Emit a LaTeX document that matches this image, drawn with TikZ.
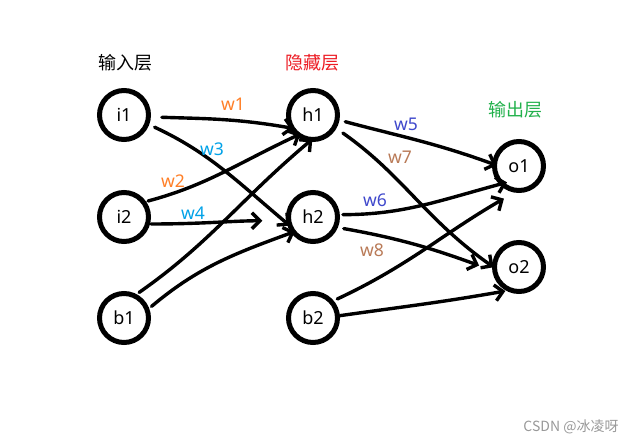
\documentclass[tikz,border=0pt]{standalone}
\usepackage{fontspec}
\setmainfont{Noto Sans}
\newfontfamily\cjk{Noto Sans CJK SC}
\usetikzlibrary{arrows.meta}
\definecolor{porange}{HTML}{FF7F27}
\definecolor{pblue}{HTML}{00A2E8}
\definecolor{pindigo}{HTML}{3F48CC}
\definecolor{pbrown}{HTML}{B97A57}
\definecolor{pred}{HTML}{ED1C24}
\definecolor{pgreen}{HTML}{22B14C}
\tikzset{
  neuron/.style={circle, draw=black, line width=5pt, minimum size=49pt, inner sep=0pt, font=\fontsize{18}{18}\selectfont},
  conn/.style={line width=3.4pt, line cap=round, line join=round, -{Straight Barb[length=8pt,width=16pt]}},
  wlab/.style={font=\fontsize{17.5}{17.5}\selectfont, inner sep=0pt},
  layer/.style={font=\cjk\fontsize{18}{18}\selectfont, inner sep=0pt}
}
\begin{document}
\begin{tikzpicture}[x=1pt,y=1pt]
\useasboundingbox[fill=white] (0,0) rectangle (636,-445);
\node[neuron] (i1) at (124,-115) {i1};
\node[neuron] (i2) at (124,-217) {i2};
\node[neuron] (b1) at (124,-318) {b1};
\node[neuron] (h1) at (313,-115) {h1};
\node[neuron] (h2) at (313,-217) {h2};
\node[neuron] (b2) at (313,-318) {b2};
\node[neuron] (o1) at (519,-166) {o1};
\node[neuron] (o2) at (519,-267) {o2};

\node[layer] (Lin) at (125,-63) {输入层};
\node[layer, text=pred] (Lhid) at (312,-63) {隐藏层};
\node[layer, text=pgreen] (Lout) at (515,-110) {输出层};

\draw[conn, shorten <=11pt, shorten >=-5pt] (i1.-4) to[out=-2,in=170] (h1.208);
\draw[conn, shorten <=6pt, shorten >=-4pt] (i1.-21) to[out=-25,in=140] (h2.193);
\draw[conn, shorten <=2pt, shorten >=-5pt] (i2.35) to[out=15,in=205] (h1.231);
\draw[conn, shorten <=1pt, shorten >=24pt] (i2.-15) to[out=0,in=180] (h2.188);
\draw[conn, shorten <=3pt, shorten >=-4pt] (b1.62) to[out=35,in=220] (h1.262);
\draw[conn, shorten <=3pt, shorten >=-4pt] (b1.21) to[out=40,in=200] (h2.216);

\draw[conn, shorten <=6pt, shorten >=-5pt] (h1.-11) to[out=-15,in=160] (o1.175);
\draw[conn, shorten <=8pt, shorten >=-2pt] (h1.-30) to[out=-35,in=145] (o2.178);
\draw[conn, shorten <=3pt, shorten >=-8pt] (h2.5) to[out=0,in=195] (o1.223);
\draw[conn, shorten <=6pt, shorten >=14pt] (h2.-23) to[out=-10,in=160] (o2.187);
\draw[conn, shorten <=4pt, shorten >=12pt] (b2.40) to[out=25,in=210] (o1.260);
\draw[conn, shorten <=0pt, shorten >=1pt] (b2.5) to[out=8,in=190] (o2.242);

\node[wlab, text=porange] (w1) at (233,-104) {w1};
\node[wlab, text=pblue] (w3) at (212,-149) {w3};
\node[wlab, text=porange] (w2) at (173,-181) {w2};
\node[wlab, text=pblue] (w4) at (193,-213) {w4};
\node[wlab, text=pindigo] (w5) at (406,-124) {w5};
\node[wlab, text=pbrown] (w7) at (400,-157) {w7};
\node[wlab, text=pindigo] (w6) at (375,-200) {w6};
\node[wlab, text=pbrown] (w8) at (372,-250) {w8};

\node[font=\cjk\fontsize{14}{14}\selectfont, text=black!40, inner sep=0pt] (wm) at (571,-427) {CSDN @冰凌呀};
\end{tikzpicture}
\end{document}
